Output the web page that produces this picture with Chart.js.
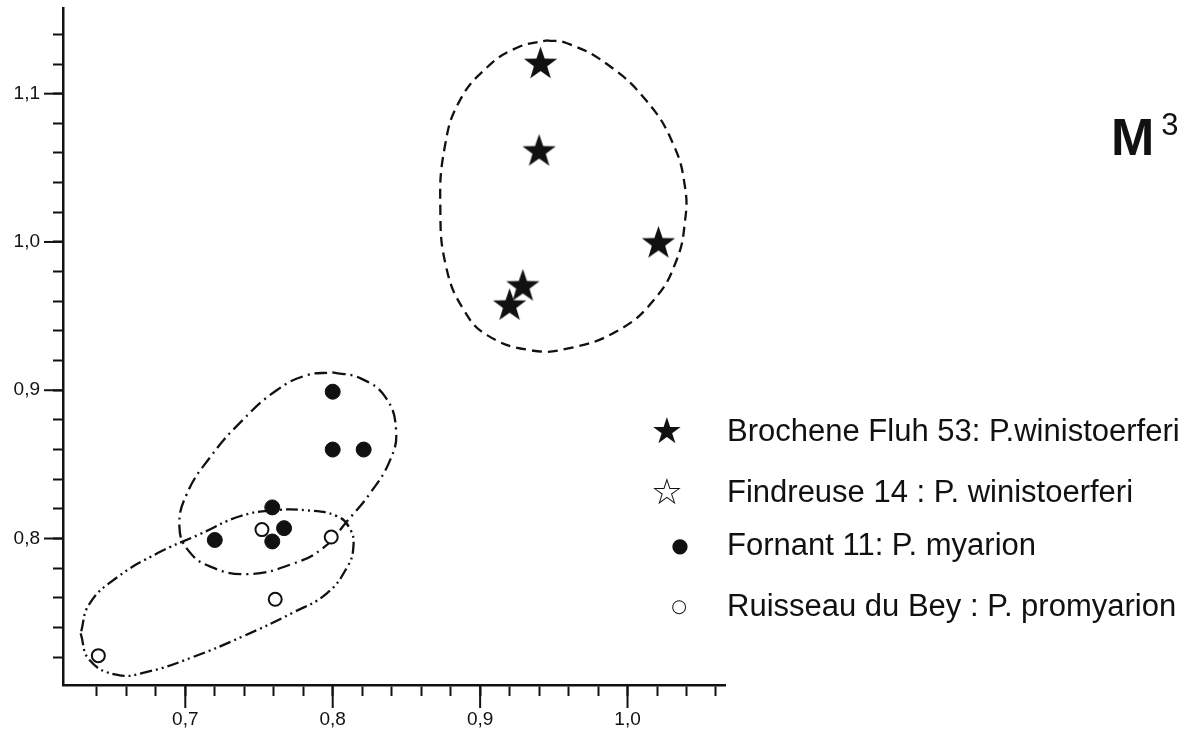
<!DOCTYPE html>
<html>
<head>
<meta charset="utf-8">
<title>M3</title>
<script src="https://cdn.jsdelivr.net/npm/chart.js@4.4.1/dist/chart.umd.min.js"></script>
<style>
  html, body { margin: 0; padding: 0; background: #fff; }
  #wrap { position: relative; width: 1197px; height: 740px; font-family: "Liberation Sans", Arial, sans-serif; color: #111; }
  #chart { position: absolute; left: 0; top: 0; }
  .title { position: absolute; left: 1111px; top: 107px; font-size: 52px; font-weight: bold; line-height: 60px; }
  .title sup { position: relative; top: 3px; font-size: 31px; font-weight: normal; margin-left: 7px; vertical-align: top; line-height: 30px; }
  .row { position: absolute; left: 0; height: 30px; line-height: 30px; white-space: nowrap; font-size: 31px; }
  .icon { position: absolute; top: 0; width: 40px; text-align: center; font-family: "DejaVu Sans", sans-serif; }
  .txt { position: absolute; left: 727px; }
</style>
</head>
<body>
<div id="wrap">
  <canvas id="chart" width="1197" height="740"></canvas>
  <div class="title">M<sup>3</sup></div>
  <div class="row" style="top:416px"><span class="icon" style="left:647px;font-size:36px">★</span><span class="txt">Brochene Fluh 53: P.winistoerferi</span></div>
  <div class="row" style="top:477px"><span class="icon" style="left:647px;font-size:36px">☆</span><span class="txt">Findreuse 14 : P. winistoerferi</span></div>
  <div class="row" style="top:530px"><span class="icon" style="left:660px;font-size:20px">●</span><span class="txt">Fornant 11: P. myarion</span></div>
  <div class="row" style="top:591px"><span class="icon" style="left:659px;font-size:18px">○</span><span class="txt">Ruisseau du Bey : P. promyarion</span></div>
</div>
<script>
// Brochene Fluh 53 : P. winistoerferi (filled stars)
const brochX = [0.941, 0.940, 1.021, 0.929, 0.920];
const brochY = [1.121, 1.062, 1.000, 0.971, 0.958];
// Fornant 11 : P. myarion (filled dots)
const fornX = [0.800, 0.800, 0.821, 0.759, 0.767, 0.759, 0.720];
const fornY = [0.899, 0.860, 0.860, 0.821, 0.807, 0.798, 0.799];
// Ruisseau du Bey : P. promyarion (open dots)
const ruisX = [0.752, 0.799, 0.761, 0.641];
const ruisY = [0.806, 0.801, 0.759, 0.721];

// hand drawn outlines round each group
const brochHullX = [0.945, 0.959, 0.986, 1.013, 1.031, 1.039, 1.039, 1.033, 1.018, 0.993, 0.959, 0.934, 0.905, 0.889, 0.877, 0.873, 0.876, 0.886, 0.905, 0.925];
const brochHullY = [1.136, 1.134, 1.120, 1.095, 1.066, 1.037, 1.014, 0.987, 0.961, 0.940, 0.928, 0.927, 0.937, 0.954, 0.983, 1.023, 1.064, 1.095, 1.118, 1.131];
const fornHullX = [0.800, 0.819, 0.836, 0.843, 0.839, 0.825, 0.810, 0.794, 0.773, 0.742, 0.717, 0.702, 0.696, 0.701, 0.717, 0.739, 0.762, 0.782];
const fornHullY = [0.912, 0.908, 0.895, 0.873, 0.853, 0.830, 0.812, 0.794, 0.783, 0.776, 0.781, 0.792, 0.808, 0.830, 0.855, 0.880, 0.900, 0.910];
const ruisHullX = [0.629, 0.635, 0.654, 0.674, 0.705, 0.739, 0.773, 0.796, 0.810, 0.814, 0.812, 0.803, 0.782, 0.760, 0.737, 0.710, 0.681, 0.654, 0.635];
const ruisHullY = [0.736, 0.718, 0.708, 0.710, 0.720, 0.734, 0.750, 0.763, 0.781, 0.794, 0.806, 0.815, 0.819, 0.819, 0.815, 0.803, 0.790, 0.774, 0.756];

const xTickValues = [0.7, 0.8, 0.9, 1.0];
const xTickLabels = ['0,7', '0,8', '0,9', '1,0'];
const yTickValues = [0.8, 0.9, 1.0, 1.1];
const yTickLabels = ['0,8', '0,9', '1,0', '1,1'];

const ink = '#111';
const toPts = (xs, ys) => xs.map((x, i) => ({ x: x, y: ys[i] }));
const closed = (xs, ys) => { const p = toPts(xs, ys); p.push(p[0]); return p; };

function starImage(R) {
  const c = document.createElement('canvas');
  c.width = c.height = Math.ceil(2 * R + 2);
  const g = c.getContext('2d');
  g.translate(c.width / 2, c.height / 2 + R * 0.09);
  g.beginPath();
  for (let i = 0; i < 10; i++) {
    const a = -Math.PI / 2 + i * Math.PI / 5;
    const rr = i % 2 ? R * 0.4 : R;
    g.lineTo(rr * Math.cos(a), rr * Math.sin(a));
  }
  g.closePath();
  g.fillStyle = ink;
  g.fill();
  return c;
}

function minorTicks(from, to) {
  const out = [];
  for (let k = Math.round(from * 50); k <= Math.round(to * 50); k++) out.push({ value: k / 50 });
  return out;
}

function labelFor(values, labels, v) {
  const i = values.findIndex(t => Math.abs(t - v) < 1e-6);
  return i < 0 ? '' : labels[i];
}

const majorTicks = {
  id: 'majorTicks',
  afterDraw(chart) {
    const { ctx, scales: { x, y } } = chart;
    ctx.save();
    ctx.strokeStyle = ink;
    ctx.lineWidth = 2;
    xTickValues.forEach(v => {
      const px = x.getPixelForValue(v);
      ctx.beginPath(); ctx.moveTo(px, x.top); ctx.lineTo(px, x.top + 23); ctx.stroke();
    });
    yTickValues.forEach(v => {
      const py = y.getPixelForValue(v);
      ctx.beginPath(); ctx.moveTo(y.right, py); ctx.lineTo(y.right - 19, py); ctx.stroke();
    });
    ctx.restore();
  }
};

const hull = (data, dash) => ({
  type: 'line',
  data: data,
  showLine: true,
  borderColor: ink,
  borderWidth: 2.3,
  borderDash: dash,
  tension: 0.45,
  pointRadius: 0,
  fill: false
});

const tickFont = { family: '"Liberation Sans", Arial, sans-serif', size: 19 };

new Chart(document.getElementById('chart'), {
  type: 'scatter',
  data: {
    datasets: [
      { label: 'Brochene Fluh 53', data: toPts(brochX, brochY), pointStyle: starImage(17.5), pointRadius: 17 },
      { label: 'Fornant 11', data: toPts(fornX, fornY), pointStyle: 'circle', pointRadius: 7.5, backgroundColor: ink, borderColor: ink, borderWidth: 1 },
      { label: 'Ruisseau du Bey', data: toPts(ruisX, ruisY), pointStyle: 'circle', pointRadius: 6.5, backgroundColor: '#fff', borderColor: ink, borderWidth: 2 },
      hull(closed(brochHullX, brochHullY), [10, 6]),
      hull(closed(fornHullX, fornHullY), [13, 5, 2, 5]),
      hull(closed(ruisHullX, ruisHullY), [12, 4, 2, 4, 2, 4])
    ]
  },
  options: {
    responsive: false,
    animation: false,
    events: [],
    layout: { autoPadding: false, padding: { left: 0, top: 8, right: 472, bottom: 0 } },
    plugins: { legend: { display: false }, tooltip: { enabled: false } },
    scales: {
      x: {
        type: 'linear',
        min: 0.61703,
        max: 1.06613,
        border: { color: ink, width: 2.5 },
        grid: { drawOnChartArea: false, tickLength: 11, tickColor: ink, tickWidth: 2 },
        afterBuildTicks: s => { s.ticks = minorTicks(0.64, 1.06); },
        afterFit: s => { s.height = 55; s.paddingLeft = 0; s.paddingRight = 0; },
        ticks: {
          autoSkip: false, maxRotation: 0, padding: 12, color: ink, font: tickFont,
          callback: v => labelFor(xTickValues, xTickLabels, v)
        }
      },
      y: {
        type: 'linear',
        min: 0.70121,
        max: 1.15778,
        border: { color: ink, width: 2.5 },
        grid: { drawOnChartArea: false, tickLength: 10, tickColor: ink, tickWidth: 2 },
        afterBuildTicks: s => { s.ticks = minorTicks(0.72, 1.14); },
        afterFit: s => { s.width = 63; s.paddingTop = 0; s.paddingBottom = 0; },
        ticks: {
          autoSkip: false, padding: 13, color: ink, font: tickFont,
          callback: v => labelFor(yTickValues, yTickLabels, v)
        }
      }
    }
  },
  plugins: [majorTicks]
});
</script>
</body>
</html>
